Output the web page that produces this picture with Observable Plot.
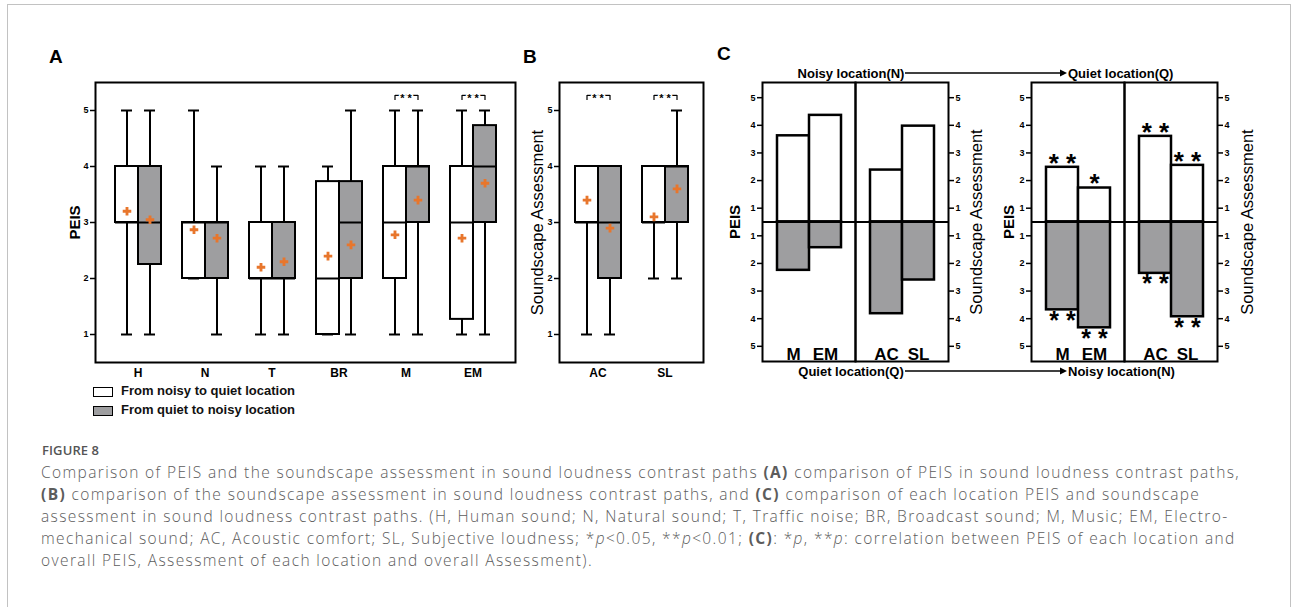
<!DOCTYPE html>
<html><head><meta charset="utf-8">
<script src="https://cdn.jsdelivr.net/npm/d3@7"></script>
<script src="https://cdn.jsdelivr.net/npm/@observablehq/plot@0.6"></script>
<style>
body{margin:0;background:#fff;}
#fig{position:relative;width:1293px;height:607px;overflow:hidden;background:#fff;font-family:"Liberation Sans",Arial,sans-serif;}
.frameBorder{position:absolute;left:7px;top:4px;width:1284px;height:700px;border:1px solid #c2c2c2;box-sizing:border-box;}
.letter{position:absolute;font-weight:bold;font-size:19px;line-height:19px;color:#000;}
.legend{position:absolute;left:93px;font-weight:bold;font-size:13px;line-height:12px;color:#111;}
.legend .sw{display:inline-block;width:20px;height:10px;border:1.5px solid #000;box-sizing:border-box;vertical-align:middle;margin-right:8px;}
.capTitle{position:absolute;left:42px;top:442px;font-family:"Open Sans",sans-serif;font-size:13px;line-height:16px;font-weight:600;color:#555;letter-spacing:0.1px;}
.capLine{position:absolute;left:41px;height:22px;font-family:"Open Sans",sans-serif;font-weight:300;color:#5c5c5c;font-size:15.5px;line-height:22px;white-space:nowrap;}
.capLine b{font-weight:700;}
</style></head>
<body><div id="fig"><div class="frameBorder"></div></div>
<script>
// ================= DATA =================
// Panel A: PEIS box plots (noisy->quiet = white, quiet->noisy = gray)
const catsA = ["H", "N", "T", "BR", "M", "EM"];
const groups = ["From noisy to quiet location", "From quiet to noisy location"];
const nqMinA  = [1, 2, 1, 1, 1, 1];
const nqQ1A   = [3, 2, 2, 1, 2, 1.27];
const nqMedA  = [3, 3, 2, 2, 3, 3];
const nqQ3A   = [4, 3, 3, 3.73, 4, 4];
const nqMaxA  = [5, 5, 4, 4, 5, 5];
const nqMeanA = [3.2, 2.87, 2.2, 2.4, 2.78, 2.72];
const qnMinA  = [1, 1, 1, 1, 1, 1];
const qnQ1A   = [2.25, 2, 2, 2, 3, 3];
const qnMedA  = [3, 3, 2, 3, 4, 4];
const qnQ3A   = [4, 3, 3, 3.73, 4, 4.73];
const qnMaxA  = [5, 4, 4, 5, 5, 5];
const qnMeanA = [3.05, 2.72, 2.3, 2.6, 3.4, 3.7];
const sigCatsA = ["M", "EM"];
const sigLabelsA = ["**", "**"];

// Panel B: soundscape assessment box plots
const catsB = ["AC", "SL"];
const nqMinB  = [1, 2];
const nqQ1B   = [3, 3];
const nqMedB  = [3, 3];
const nqQ3B   = [4, 4];
const nqMaxB  = [4, 4];
const nqMeanB = [3.4, 3.1];
const qnMinB  = [1, 2];
const qnQ1B   = [2, 3];
const qnMedB  = [3, 4];
const qnQ3B   = [4, 4];
const qnMaxB  = [4, 5];
const qnMeanB = [2.9, 3.6];
const sigCatsB = ["AC", "SL"];
const sigLabelsB = ["**", "**"];

const yTicksAB = [1, 2, 3, 4, 5];
const yDomainAB = [0.5, 5.5];
const bracketLow = 5.18, bracketHigh = 5.27;

// Panel C: mirrored bars per location
const cItems = ["M", "EM", "AC", "SL"];
const cPairs = ["PEIS", "PEIS", "Assessment", "Assessment"];
const cLeftTop     = [3.62, 4.36, 2.38, 3.97];   // Noisy location (N)
const cLeftBottom  = [2.25, 1.43, 3.82, 2.60];   // Quiet location (Q)
const cRightTop    = [2.48, 1.73, 3.60, 2.55];   // Quiet location (Q)
const cRightBottom = [3.68, 4.33, 2.36, 3.93];   // Noisy location (N)
const cRightTopSig    = ["**", "*", "**", "**"];
const cRightBottomSig = ["**", "**", "**", "**"];
const cTickLabels = [1, 2, 3, 4, 5];
const cBase = 0.5;        // bars start half a unit below the "1" tick
const cExtent = 5.05;

const white = "#ffffff", gray = "#9e9ea0", orange = "#e8762c";
const fontFam = "'Liberation Sans', Arial, Helvetica, sans-serif";
const svgStyle = (bg) => ({fontFamily: fontFam, fontSize: "9px", fontWeight: "bold", background: bg, overflow: "visible", color: "#000"});
const spaced = s => s.split("").join(" ");

const fig = document.getElementById("fig");
function place(el, left, top) {
  el.style.position = "absolute"; el.style.left = left + "px"; el.style.top = top + "px";
  el.style.maxWidth = "none";
  fig.appendChild(el);
}

// ================= BOX PANELS (A, B) =================
function boxRows(cats, stats) {
  return cats.flatMap((c, i) => stats.map((s, g) => ({
    cat: c, grp: groups[g], min: s.min[i], q1: s.q1[i], med: s.med[i], q3: s.q3[i], max: s.max[i], mean: s.mean[i]
  })));
}
function boxPanel({cats, rows, sigCats, sigLabels, left, top, width, height, margins, padOuter, ylabel, ylabelDx}) {
  const common = {width, height, ...margins, y: {domain: yDomainAB}};
  const isPEIS = ylabel === "PEIS";
  const base = Plot.plot({
    ...common, style: svgStyle("transparent"),
    marks: [
      Plot.frame({stroke: "#000", strokeWidth: 2}),
      Plot.axisY({ticks: yTicksAB, tickFormat: d => String(d), tickSize: 5, tickPadding: 2, label: null, fontSize: 9, fontWeight: "bold", strokeWidth: 1.5}),
      Plot.text([ylabel], {text: d => d, frameAnchor: "left", textAnchor: "middle", rotate: -90, dx: ylabelDx,
        fontSize: isPEIS ? 15 : 16.5, fontWeight: isPEIS ? "bold" : "normal"})
    ]
  });
  const sigRows = sigCats.map((c, i) => ({cat: c, from: groups[0], to: groups[1], label: sigLabels[i]}));
  const sigEnds = sigCats.flatMap(c => groups.map(g => ({cat: c, grp: g})));
  const fac = Plot.plot({
    ...common, style: svgStyle("transparent"),
    fx: {domain: cats, paddingInner: 0.295, paddingOuter: padOuter, label: null},
    x: {domain: groups, padding: 0, axis: null},
    y: {domain: yDomainAB, axis: null},
    color: {domain: groups, range: [white, gray]},
    marks: [
      Plot.ruleX(rows, {fx: "cat", x: "grp", y1: "min", y2: "max", stroke: "#000", strokeWidth: 2}),
      Plot.tickY(rows, {fx: "cat", x: "grp", y: "min", stroke: "#000", strokeWidth: 2, insetLeft: 6, insetRight: 6}),
      Plot.tickY(rows, {fx: "cat", x: "grp", y: "max", stroke: "#000", strokeWidth: 2, insetLeft: 6, insetRight: 6}),
      Plot.barY(rows, {fx: "cat", x: "grp", y1: "q1", y2: "q3", fill: "grp", stroke: "#000", strokeWidth: 2}),
      Plot.tickY(rows, {fx: "cat", x: "grp", y: "med", stroke: "#000", strokeWidth: 2}),
      Plot.dot(rows, {fx: "cat", x: "grp", y: "mean", symbol: "cross", fill: orange, r: 3.6}),
      Plot.ruleX(sigEnds, {fx: "cat", x: "grp", y1: bracketLow, y2: bracketHigh, stroke: "#000", strokeWidth: 1.2}),
      Plot.link(sigRows, {fx: "cat", x1: "from", x2: "to", y1: bracketHigh, y2: bracketHigh, stroke: "#000", strokeWidth: 1.2}),
      Plot.text(sigRows, {fx: "cat", y: bracketHigh, text: d => spaced(d.label), fontSize: 11, fontWeight: "bold", fill: "#000", stroke: "#fff", strokeWidth: 3, dy: 3}),
      Plot.axisFx({anchor: "bottom", tickSize: 0, tickPadding: 6, label: null, fontSize: 12, fontWeight: "bold"})
    ]
  });
  place(base, left, top);
  place(fac, left, top);
}

boxPanel({
  cats: catsA,
  rows: boxRows(catsA, [
    {min: nqMinA, q1: nqQ1A, med: nqMedA, q3: nqQ3A, max: nqMaxA, mean: nqMeanA},
    {min: qnMinA, q1: qnQ1A, med: qnMedA, q3: qnQ3A, max: qnMaxA, mean: qnMeanA}
  ]),
  sigCats: sigCatsA, sigLabels: sigLabelsA,
  left: 40, top: 70, width: 490, height: 320,
  margins: {marginLeft: 55, marginRight: 15, marginTop: 12, marginBottom: 28},
  padOuter: 0.27, ylabel: "PEIS", ylabelDx: -20
});
boxPanel({
  cats: catsB,
  rows: boxRows(catsB, [
    {min: nqMinB, q1: nqQ1B, med: nqMedB, q3: nqQ3B, max: nqMaxB, mean: nqMeanB},
    {min: qnMinB, q1: qnQ1B, med: qnMedB, q3: qnQ3B, max: qnMaxB, mean: qnMeanB}
  ]),
  sigCats: sigCatsB, sigLabels: sigLabelsB,
  left: 500, top: 70, width: 215, height: 320,
  margins: {marginLeft: 59, marginRight: 12, marginTop: 12, marginBottom: 28},
  padOuter: 0.218, ylabel: "Soundscape Assessment", ylabelDx: -22
});

// ================= BAR PANELS (C) =================
function barPanel({topVals, bottomVals, topSig, bottomSig, left, top, width, height, margins, leftDx, rightDx}) {
  const rows = cItems.map((item, i) => ({
    item, pair: cPairs[i], slot: cPairs.slice(0, i).filter(p => p === cPairs[i]).length,
    top: topVals[i], bottom: bottomVals[i],
    topSig: topSig ? topSig[i] : null, bottomSig: bottomSig ? bottomSig[i] : null
  }));
  const pairs = Array.from(new Set(cPairs));
  const ticks = cTickLabels.flatMap(k => [k - cBase, -(k - cBase)]);
  const fmt = d => String(Math.round(Math.abs(d) + cBase));
  const marks = [
    Plot.barY(rows, {fx: "pair", x: "slot", y1: 0, y2: d => d.top - cBase, fill: white, stroke: "#000", strokeWidth: 2.5}),
    Plot.barY(rows, {fx: "pair", x: "slot", y1: 0, y2: d => -(d.bottom - cBase), fill: gray, stroke: "#000", strokeWidth: 2.5}),
    Plot.ruleY([0], {stroke: "#000", strokeWidth: 2}),
    Plot.frame({stroke: "#000", strokeWidth: 2}),
    Plot.text(rows, {fx: "pair", x: "slot", text: "item", frameAnchor: "bottom", lineAnchor: "bottom", dy: -2, fontSize: 17, fontWeight: "bold"}),
    Plot.axisY({anchor: "left", ticks, tickFormat: fmt, tickSize: 5, tickPadding: 2, label: null, fontSize: 9, fontWeight: "bold", strokeWidth: 1.5}),
    Plot.axisY({anchor: "right", ticks, tickFormat: fmt, tickSize: 5, tickPadding: 2, label: null, fontSize: 9, fontWeight: "bold", strokeWidth: 1.5}),
    Plot.text([{pair: pairs[0], label: "PEIS"}], {fx: "pair", text: "label", frameAnchor: "left", textAnchor: "middle", rotate: -90, dx: leftDx, fontSize: 15, fontWeight: "bold"}),
    Plot.text([{pair: pairs[1], label: "Soundscape Assessment"}], {fx: "pair", text: "label", frameAnchor: "right", textAnchor: "middle", rotate: -90, dx: rightDx, fontSize: 16.5, fontWeight: "normal"})
  ];
  if (topSig) marks.push(Plot.text(rows, {fx: "pair", x: "slot", y: d => d.top - cBase, text: d => spaced(d.topSig), fontSize: 26, fontWeight: "bold", lineAnchor: "middle", dy: -4}));
  if (bottomSig) marks.push(Plot.text(rows, {fx: "pair", x: "slot", y: d => -(d.bottom - cBase), text: d => spaced(d.bottomSig), fontSize: 25, fontWeight: "bold", lineAnchor: "middle", dy: 11}));
  const p = Plot.plot({
    width, height, ...margins, style: svgStyle("transparent"),
    fx: {domain: pairs, padding: 0, axis: null, label: null},
    x: {domain: [0, 1], type: "band", paddingInner: 0, paddingOuter: 0.41, axis: null},
    y: {domain: [-cExtent, cExtent]},
    marks
  });
  place(p, left, top);
}
barPanel({topVals: cLeftTop, bottomVals: cLeftBottom, left: 700, top: 78, width: 300, height: 290,
  margins: {marginLeft: 62, marginRight: 52, marginTop: 4, marginBottom: 7}, leftDx: -27, rightDx: 28});
barPanel({topVals: cRightTop, bottomVals: cRightBottom, topSig: cRightTopSig, bottomSig: cRightBottomSig,
  left: 975, top: 78, width: 300, height: 290,
  margins: {marginLeft: 56, marginRight: 58, marginTop: 4, marginBottom: 7}, leftDx: -22, rightDx: 30});

// ================= ANNOTATIONS =================
const ann = d3.select(fig).append("svg").attr("width", 1293).attr("height", 607)
  .style("position", "absolute").style("left", "0px").style("top", "0px").style("pointer-events", "none");
function arrowRow(y, leftText, rightText) {
  ann.append("text").attr("x", 851).attr("y", y).attr("text-anchor", "middle").attr("dominant-baseline", "central")
    .attr("font-family", fontFam).attr("font-weight", "bold").attr("font-size", 13).text(leftText);
  ann.append("line").attr("x1", 905).attr("x2", 1061).attr("y1", y).attr("y2", y).attr("stroke", "#000").attr("stroke-width", 1.5);
  ann.append("path").attr("d", `M1060,${y - 3.5}L1067,${y}L1060,${y + 3.5}Z`).attr("fill", "#000");
  ann.append("text").attr("x", 1068).attr("y", y).attr("text-anchor", "start").attr("dominant-baseline", "central")
    .attr("font-family", fontFam).attr("font-weight", "bold").attr("font-size", 13).text(rightText);
}
arrowRow(73, "Noisy location(N)", "Quiet location(Q)");
arrowRow(371, "Quiet location(Q)", "Noisy location(N)");

// Panel letters
[["A", 49, 47], ["B", 523, 47], ["C", 717, 44]].forEach(([t, x, y]) => {
  const d = document.createElement("div"); d.className = "letter"; d.textContent = t;
  d.style.left = x + "px"; d.style.top = y + "px"; fig.appendChild(d);
});

// Legend for A
groups.forEach((g, i) => {
  const d = document.createElement("div"); d.className = "legend";
  d.style.top = (385 + i * 19) + "px";
  d.innerHTML = `<span class="sw" style="background:${i === 0 ? white : gray}"></span>${g}`;
  fig.appendChild(d);
});

// Caption
const t = document.createElement("div"); t.className = "capTitle"; t.textContent = "FIGURE 8"; fig.appendChild(t);
const capLines = [
  "Comparison of PEIS and the soundscape assessment in sound loudness contrast paths <b>(A)</b> comparison of PEIS in sound loudness contrast paths,",
  "<b>(B)</b> comparison of the soundscape assessment in sound loudness contrast paths, and <b>(C)</b> comparison of each location PEIS and soundscape",
  "assessment in sound loudness contrast paths. (H, Human sound; N, Natural sound; T, Traffic noise; BR, Broadcast sound; M, Music; EM, Electro-",
  "mechanical sound; AC, Acoustic comfort; SL, Subjective loudness; *<i>p</i>&lt;0.05, **<i>p</i>&lt;0.01; <b>(C)</b>: *<i>p</i>, **<i>p</i>: correlation between PEIS of each location and",
  "overall PEIS, Assessment of each location and overall Assessment)."
];
const lineEls = capLines.map((l, i) => {
  const d = document.createElement("div"); d.className = "capLine";
  d.style.top = (461 + i * 22) + "px"; d.innerHTML = l; fig.appendChild(d); return d;
});
// fit first line to the reference width with letter spacing (font size stays fixed)
const w0 = lineEls[0].getBoundingClientRect().width;
const nChars = lineEls[0].textContent.length;
if (w0 > 0) {
  const ls = ((1199 - w0) / nChars).toFixed(3) + "px";
  lineEls.forEach(d => d.style.letterSpacing = ls);
}
</script>
</body></html>
